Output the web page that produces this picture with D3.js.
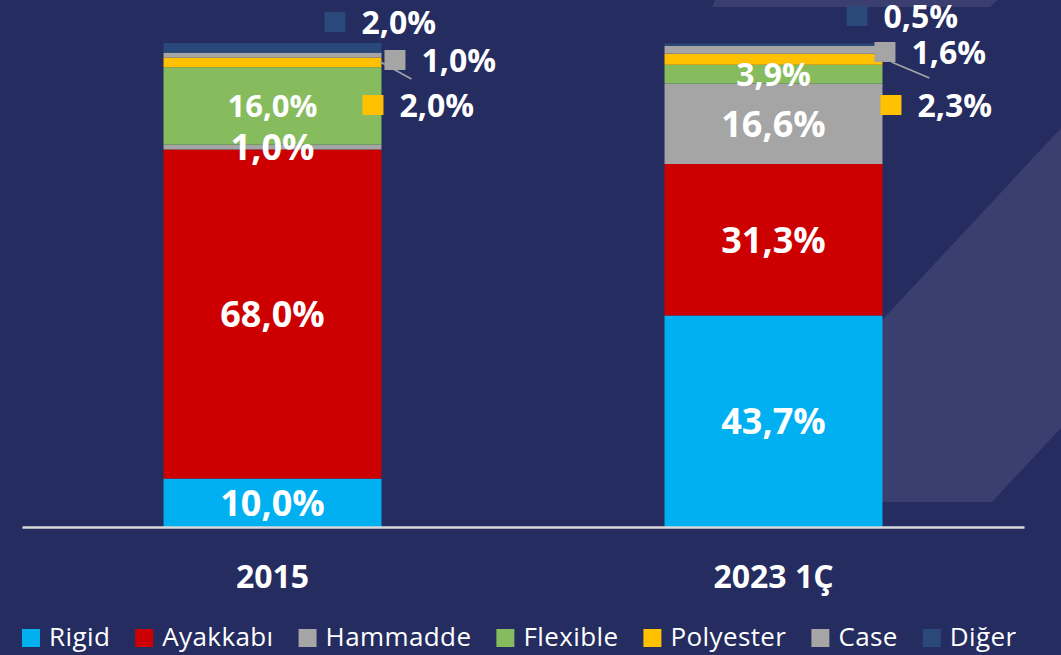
<!DOCTYPE html>
<html>
<head>
<meta charset="utf-8">
<script src="https://cdn.jsdelivr.net/npm/d3@7"></script>
<style>
  html, body { margin: 0; padding: 0; background: #242c60; }
  svg { display: block; }
  text { font-family: "Open Sans", sans-serif; fill: #fff; }
</style>
</head>
<body>
<div id="chart"></div>
<script>
var width = 1061;
var height = 655;

// data (percent share)
var categories = ["2015", "2023 1Ç"];
var seriesNames = ["Rigid", "Ayakkabı", "Hammadde", "Flexible", "Polyester", "Case", "Diğer"];
var rigid = [10.0, 43.7];
var ayakkabi = [68.0, 31.3];
var hammadde = [1.0, 16.6];
var flexible = [16.0, 3.9];
var polyester = [2.0, 2.3];
var caseShare = [1.0, 1.6];
var diger = [2.0, 0.5];

var seriesValues = [rigid, ayakkabi, hammadde, flexible, polyester, caseShare, diger];
var colors = ["#00b0f0", "#cc0000", "#a5a5a5", "#86bc5e", "#ffc000", "#a5a5a5", "#2a4879"];

// labels that sit outside the bars, positioned by hand like in the original
// dx = marker left relative to bar right edge, cy = marker centre y
var outsideLabels = {
  "Polyester": [{dx: -19, cy: 105}, {dx: -2, cy: 105}],
  "Case": [{dx: 3, cy: 60, lead: [[-4, 2], [27, 19]]}, {dx: -8, cy: 52, lead: [[17, 10], [55, 26]]}],
  "Diğer": [{dx: -57, cy: 22}, {dx: -36, cy: 16}]
};
var labelSize = {"Flexible": [31, 32]};

var fmt = function(v) { return v.toFixed(1).replace(".", ",") + "%"; };

var svg = d3.select("#chart").append("svg")
    .attr("width", width)
    .attr("height", height);

svg.append("rect").attr("width", width).attr("height", height).attr("fill", "#242c60");

// decorative lighter shapes in the background
svg.append("polygon")
    .attr("points", "718,-6 1004,-6 990,7 712,7")
    .attr("fill", "#3a3f70");
svg.append("polygon")
    .attr("points", "870,333 1061,128 1061,428 992,502 870,502")
    .attr("fill", "#3a3f70");

var x = d3.scaleBand()
    .domain(categories)
    .range([22, 1024])
    .paddingInner(0.565)
    .paddingOuter(0.2825);

var y = d3.scaleLinear()
    .domain([0, 100])
    .range([527, 43]);

// stack the series
var rows = categories.map(function(c, i) {
  var r = {cat: c};
  seriesNames.forEach(function(s, j) { r[s] = seriesValues[j][i]; });
  return r;
});
var stacked = d3.stack().keys(seriesNames)(rows);

var layers = svg.append("g").selectAll("g")
    .data(stacked)
    .enter().append("g")
    .attr("fill", function(d, i) { return colors[i]; });

layers.selectAll("rect")
    .data(function(d) { return d; })
    .enter().append("rect")
    .attr("x", function(d) { return x(d.data.cat); })
    .attr("width", x.bandwidth())
    .attr("y", function(d) { return y(d[1]); })
    .attr("height", function(d) { return y(d[0]) - y(d[1]); });

// axis line + category labels
var xAxis = d3.axisBottom(x).tickSize(0).tickPadding(38);
var axisG = svg.append("g")
    .attr("transform", "translate(0,527)")
    .call(xAxis);
axisG.select(".domain").attr("stroke", "#d9d9d9").attr("stroke-width", 2.5);
axisG.selectAll("text")
    .attr("font-size", 32)
    .attr("font-weight", 700)
    .attr("fill", "#fff")
    .style("font-family", "'Open Sans', sans-serif");

// value labels
stacked.forEach(function(layer, j) {
  var name = seriesNames[j];
  layer.forEach(function(d, i) {
    var v = d[1] - d[0];
    var bx = x(d.data.cat);
    if (outsideLabels[name]) {
      var o = outsideLabels[name][i];
      var mx = bx + x.bandwidth() + o.dx;
      if (o.lead) {
        svg.append("line")
            .attr("x1", mx + o.lead[0][0]).attr("y1", o.cy + o.lead[0][1])
            .attr("x2", mx + o.lead[1][0]).attr("y2", o.cy + o.lead[1][1])
            .attr("stroke", "#a5a5a5").attr("stroke-width", 1.5);
      }
      svg.append("rect")
          .attr("x", mx).attr("y", o.cy - 10)
          .attr("width", 21).attr("height", 20)
          .attr("fill", colors[j]);
      svg.append("text")
          .attr("x", mx + 37).attr("y", o.cy)
          .attr("dy", "0.36em")
          .attr("font-size", 32)
          .attr("font-weight", 700)
          .text(fmt(v));
    } else {
      var size = labelSize[name] ? labelSize[name][i] : 36;
      svg.append("text")
          .attr("x", bx + x.bandwidth() / 2)
          .attr("y", (y(d[0]) + y(d[1])) / 2)
          .attr("dy", "0.36em")
          .attr("text-anchor", "middle")
          .attr("font-size", size)
          .attr("font-weight", 700)
          .text(fmt(v));
    }
  });
});

// legend
var legend = svg.append("g").attr("transform", "translate(22,637)");
var lx = 0;
seriesNames.forEach(function(s, j) {
  var g = legend.append("g").attr("transform", "translate(" + lx + ",0)");
  g.append("rect").attr("x", 0).attr("y", -8).attr("width", 18).attr("height", 18).attr("fill", colors[j]);
  var t = g.append("text")
      .attr("x", 27).attr("y", 0)
      .attr("dy", "0.36em")
      .attr("font-size", 26)
      .attr("letter-spacing", 0.4)
      .text(s);
  lx += 27 + t.node().getComputedTextLength() + 25;
});
</script>
</body>
</html>
